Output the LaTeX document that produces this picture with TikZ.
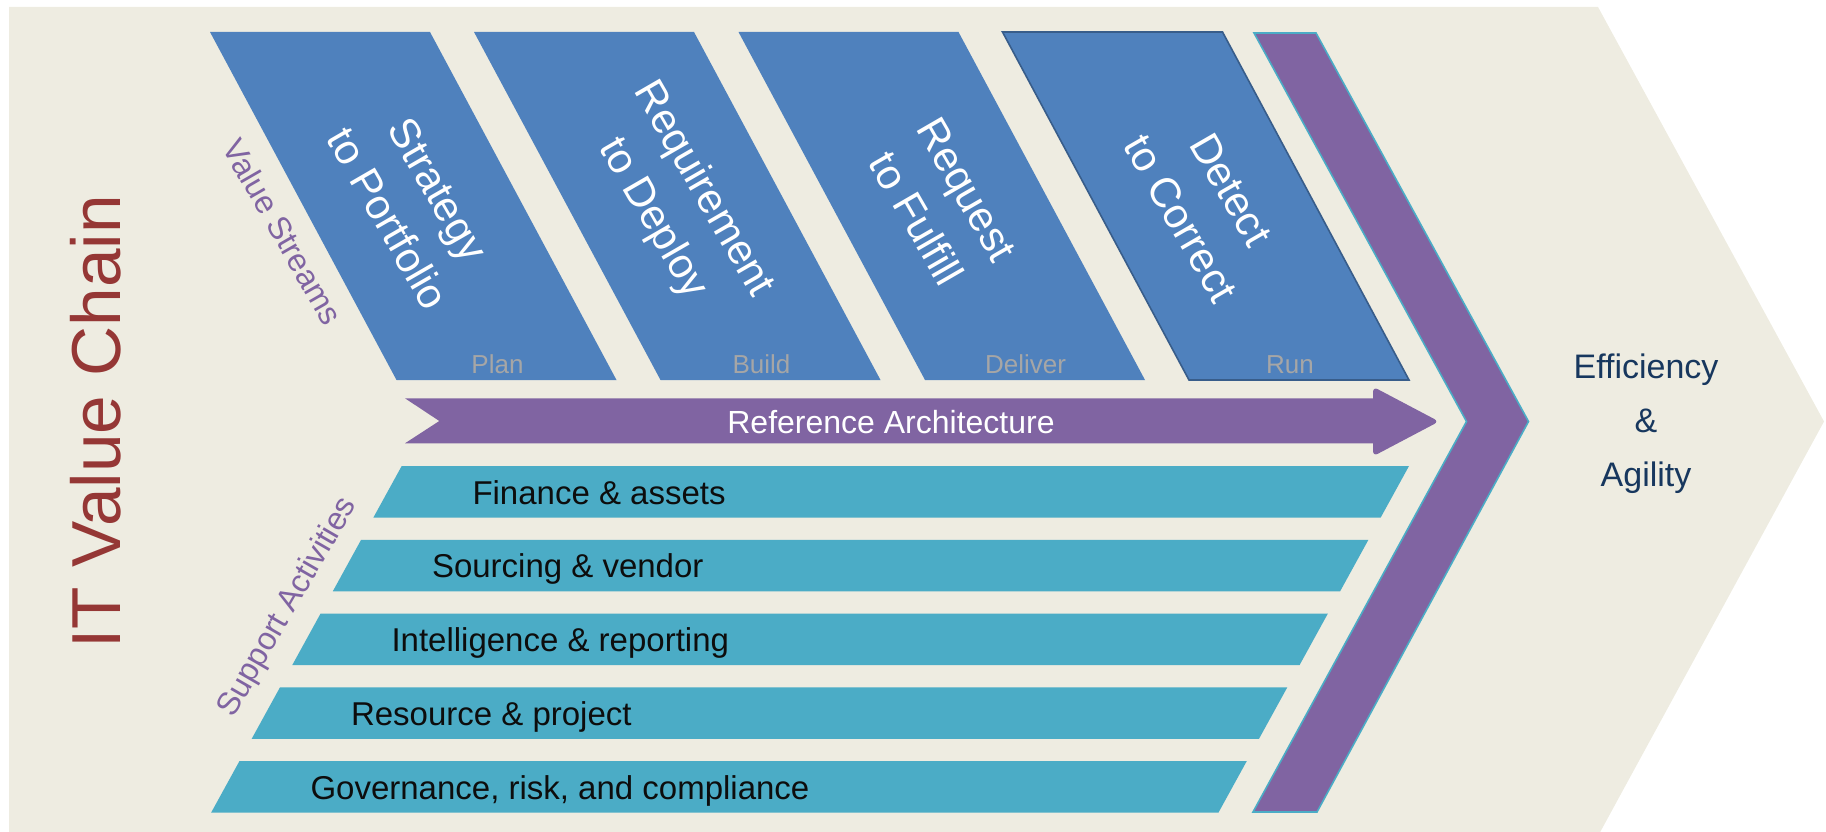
\documentclass[tikz,border=0pt]{standalone}
\usepackage{fontspec}
\setmainfont{Liberation Sans}
\usepackage{tikz}
\tikzset{every picture/.style={line width=0.75pt}}
\tikzset{
  backdrop/.style={fill={rgb, 255:red, 238; green, 236; blue, 225 }, draw=none},
  stream/.style={fill={rgb, 255:red, 79; green, 129; blue, 189 }, draw=none},
  support/.style={fill={rgb, 255:red, 75; green, 172; blue, 198 }, draw=none},
  chevron/.style={fill={rgb, 255:red, 128; green, 100; blue, 162 }, draw={rgb, 255:red, 75; green, 172; blue, 198 }, line width=1.2pt},
  refarrow/.style={fill={rgb, 255:red, 128; green, 100; blue, 162 }, draw=none},
  stream text/.style={color=white, align=center, inner sep=0.75pt, rotate=-60, font=\fontsize{31.5}{43.5}\selectfont},
  phase text/.style={color={rgb, 255:red, 166; green, 166; blue, 166 }, anchor=base, inner sep=0.75pt, font=\fontsize{19.5}{23}\selectfont},
  support text/.style={color={rgb, 255:red, 13; green, 13; blue, 13 }, anchor=base west, inner sep=0pt, font=\fontsize{24.75}{30}\selectfont},
  side text/.style={color={rgb, 255:red, 128; green, 100; blue, 162 }, inner sep=0.75pt, font=\fontsize{24}{29}\selectfont}
}

\begin{document}
\begin{tikzpicture}[x=0.75pt,y=0.75pt,yscale=-1,xscale=1]
\useasboundingbox (0,0) rectangle (1826,831);

%Shape: Chevron background
\draw [backdrop] (9,7) -- (1598,7) -- (1824,421.5) -- (1598,836) -- (9,836) -- cycle ;

%Shape: Parallelogram [Plan]
\draw [stream] (210,32) -- (430,32) -- (616.5,380) -- (396.5,380) -- cycle ;
%Shape: Parallelogram [Build]
\draw [stream] (474,32) -- (694,32) -- (880.5,380) -- (660.5,380) -- cycle ;
%Shape: Parallelogram [Deliver]
\draw [stream] (738.5,32) -- (958.5,32) -- (1145,380) -- (925,380) -- cycle ;
%Shape: Parallelogram [Run]
\draw [stream, draw={rgb, 255:red, 56; green, 93; blue, 138 }, line width=1.2pt] (1002.5,32) -- (1222.5,32) -- (1409,380) -- (1189,380) -- cycle ;

%Shape: Chevron
\draw [chevron] (1254,33) -- (1316,33) -- (1528.5,421.5) -- (1317,812) -- (1253,812) -- (1466.5,421.5) -- cycle ;

%Shape: Notched Right Arrow
\draw [refarrow] (405,398.3) -- (1373,398.3) [rounded corners=4] -- (1373,386.7) -- (1439,421.5) -- (1373,456.3) [sharp corners] -- (1373,443.3) -- (405,443.3) -- (439.3,421) -- cycle ;

%Shape: Parallelogram [support bars]
\draw [support] (401.7,466) -- (1409,466) -- (1380.7,517.5) -- (373.4,517.5) -- cycle ;
\draw [support] (361.1,539.8) -- (1368.4,539.8) -- (1340.1,591.3) -- (332.8,591.3) -- cycle ;
\draw [support] (320.6,613.5) -- (1327.9,613.5) -- (1299.6,665) -- (292.3,665) -- cycle ;
\draw [support] (280,687.3) -- (1287.3,687.3) -- (1259,738.8) -- (251.7,738.8) -- cycle ;
\draw [support] (239.5,761) -- (1246.8,761) -- (1218.5,812.5) -- (211.2,812.5) -- cycle ;

% Text Node
\node [color={rgb, 255:red, 149; green, 55; blue, 53 }, rotate=90, anchor=base, inner sep=0.75pt, font=\fontsize{52}{62}\selectfont] (title) at (120,422) {IT Value Chain};
% Text Node
\node [side text, rotate=-60] (vstreams) at (283,232) {Value Streams};
% Text Node
\node [side text, rotate=60] (sactivities) at (288,607.5) {Support Activities};

% Text Node
\node [stream text] (s2p) at (413,204) {Strategy\\to Portfolio};
% Text Node
\node [stream text] (r2d) at (677.5,204) {Requirement\\to Deploy};
% Text Node
\node [stream text] (r2f) at (941.5,204) {Request\\to Fulfill};
% Text Node
\node [stream text] (d2c) at (1206,204) {Detect\\to Correct};

% Text Node
\node [phase text] (plan) at (497.5,373) {Plan};
% Text Node
\node [phase text] (build) at (761.5,373) {Build};
% Text Node
\node [phase text] (deliver) at (1025.5,373) {Deliver};
% Text Node
\node [phase text] (run) at (1290,373) {Run};

% Text Node
\node [color=white, anchor=base, inner sep=0.75pt, font=\fontsize{24}{29}\selectfont] (refarch) at (891,433) {Reference Architecture};

% Text Node
\node [support text] (finance) at (472,504) {Finance \& assets};
% Text Node
\node [support text] (sourcing) at (431.5,577.8) {Sourcing \& vendor};
% Text Node
\node [support text] (intel) at (391,651.5) {Intelligence \& reporting};
% Text Node
\node [support text] (resource) at (350.5,725.3) {Resource \& project};
% Text Node
\node [support text] (grc) at (310,799) {Governance, risk, and compliance};

% Text Node
\node [color={rgb, 255:red, 23; green, 55; blue, 94 }, align=center, inner sep=0.75pt, font=\fontsize{25.5}{40.5}\selectfont] (effagility) at (1646,424) {Efficiency\\\&\\Agility};
\end{tikzpicture}
\end{document}
